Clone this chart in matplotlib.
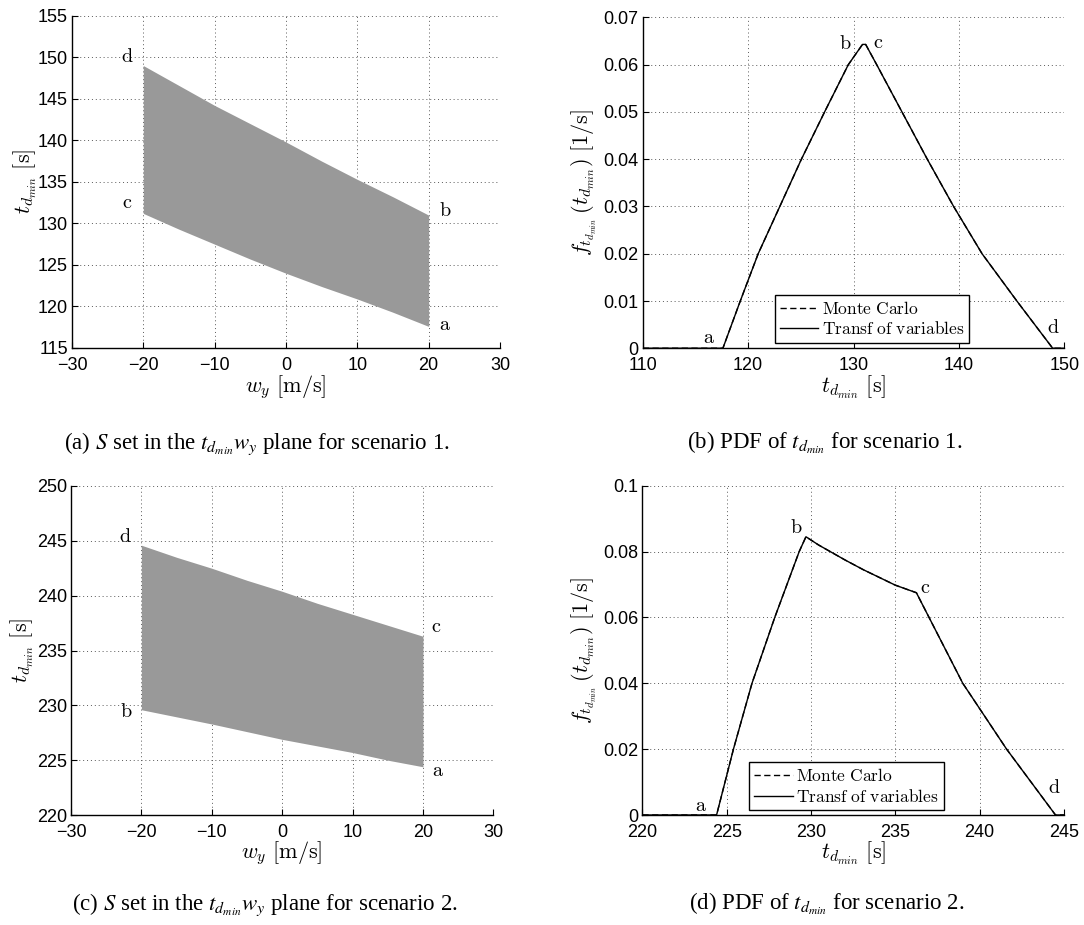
import numpy as np
import matplotlib
matplotlib.use("Agg")
import matplotlib.pyplot as plt
from matplotlib.ticker import FuncFormatter, MultipleLocator

plt.rcParams['font.family'] = ['Liberation Sans', 'DejaVu Sans']
plt.rcParams['mathtext.fontset'] = 'cm'

# ---- scenario 1: S set in the (w_y, t_dmin) plane
wy = [-20, -15, -10, -5, 0, 5, 10, 15, 20]
s1_top = [149.0, 146.6, 144.2, 142.0, 139.8, 137.5, 135.3, 133.2, 131.0]
s1_bottom = [131.2, 129.3, 127.5, 125.7, 124.0, 122.4, 120.9, 119.3, 117.6]
s1_corners = {'a': (22.3, 117.8), 'b': (22.3, 131.6), 'c': (-22.3, 132.5), 'd': (-22.3, 150.1)}

# ---- scenario 1: PDF of t_dmin
t1 = [110, 117.6, 119.25, 120.95, 123.0, 125.05, 127.25, 129.5, 130.85, 131.15,
      132.2, 134.6, 137.0, 139.5, 142.2, 145.5, 148.9, 150]
pdf1_mc = [0, 0, 0.01, 0.02, 0.03, 0.04, 0.05, 0.06, 0.0643, 0.0643,
           0.06, 0.05, 0.04, 0.03, 0.02, 0.01, 0, 0]
pdf1_tv = [0, 0, 0.01, 0.02, 0.03, 0.04, 0.05, 0.06, 0.0643, 0.0643,
           0.06, 0.05, 0.04, 0.03, 0.02, 0.01, 0, 0]
pdf1_marks = {'a': (116.3, 0.0022), 'b': (129.2, 0.0644), 'c': (132.3, 0.0646), 'd': (148.95, 0.0044)}

# ---- scenario 2: S set
s2_top = [244.6, 243.5, 242.5, 241.4, 240.4, 239.3, 238.3, 237.3, 236.3]
s2_bottom = [229.6, 228.95, 228.3, 227.6, 226.9, 226.3, 225.7, 225.0, 224.4]
s2_corners = {'a': (22.2, 224.1), 'b': (-22.1, 229.4), 'c': (21.9, 237.2), 'd': (-22.3, 245.4)}

# ---- scenario 2: PDF
t2 = [220, 224.4, 225.4, 226.5, 227.85, 229.3, 229.7, 230.45, 232.0, 233.1,
      235.0, 236.25, 237.0, 239.0, 241.6, 244.5, 245]
pdf2_mc = [0, 0, 0.02, 0.04, 0.06, 0.08, 0.0845, 0.0820, 0.0775, 0.0745,
           0.0698, 0.0675, 0.060, 0.040, 0.020, 0, 0]
pdf2_tv = [0, 0, 0.02, 0.04, 0.06, 0.08, 0.0845, 0.0820, 0.0775, 0.0745,
           0.0698, 0.0675, 0.060, 0.040, 0.020, 0, 0]
pdf2_marks = {'a': (223.5, 0.0030), 'b': (229.1, 0.0874), 'c': (236.8, 0.0692), 'd': (244.4, 0.0083)}

captions = [
    r'(a) $S$ set in the $t_{d_{min}}w_y$ plane for scenario 1.',
    r'(b) PDF of $t_{d_{min}}$ for scenario 1.',
    r'(c) $S$ set in the $t_{d_{min}}w_y$ plane for scenario 2.',
    r'(d) PDF of $t_{d_{min}}$ for scenario 2.',
]

TD_LABEL = r'$t_{d_{min}}\ [\mathrm{s}]$'
WY_LABEL = r'$w_y\ [\mathrm{m/s}]$'
PDF_LABEL = r'$f_{t_{d_{min}}}\,(t_{d_{min}})\ [1/\mathrm{s}]$'


def fmt(v, pos):
    return f'{v:g}'.replace('-', '\u2212')


def style(ax, xlim, ylim, xstep, ystep):
    ax.set_xlim(*xlim)
    ax.set_ylim(*ylim)
    ax.xaxis.set_major_locator(MultipleLocator(xstep))
    ax.yaxis.set_major_locator(MultipleLocator(ystep))
    ax.xaxis.set_major_formatter(FuncFormatter(fmt))
    ax.yaxis.set_major_formatter(FuncFormatter(fmt))
    ax.set_axisbelow(True)
    ax.grid(True, linestyle=(0, (1, 3)), color='0.35', linewidth=0.7)
    for s in ['top', 'right']:
        ax.spines[s].set_visible(False)
    for s in ['left', 'bottom']:
        ax.spines[s].set_linewidth(1.0)
    ax.tick_params(direction='in', length=4, width=0.8, labelsize=13)
    ax.tick_params(axis='x', pad=6.5)
    ax.tick_params(axis='y', pad=3)


def letters(ax, marks):
    for k, (x, y) in marks.items():
        ax.text(x, y, r'$\mathrm{%s}$' % k, fontsize=14.5, ha='center', va='center')


def labels(ax, xl, yl, ylx, xly):
    ax.set_xlabel(xl, fontsize=16, va='center')
    ax.set_ylabel(yl, fontsize=16, va='center')
    ax.xaxis.set_label_coords(0.5, xly)
    ax.yaxis.set_label_coords(ylx, 0.5)


def pdf_panel(ax, t, mc, tv, anchor):
    ax.plot(t, mc, color='k', lw=1.0, linestyle=(0, (4.5, 2.5)), label=r'$\mathrm{Monte\ Carlo}$')
    ax.plot(t, tv, color='k', lw=1.0, label=r'$\mathrm{Transf\ of\ variables}$')
    leg = ax.legend(loc='lower left', bbox_to_anchor=anchor, borderaxespad=0,
                    fancybox=False, edgecolor='k', framealpha=1, fontsize=12.5,
                    handlelength=2.2, handletextpad=0.2, labelspacing=0.2,
                    borderpad=0.3)
    leg.get_frame().set_linewidth(1.0)


fig = plt.figure(figsize=(10.84, 9.25), dpi=100)

axA = fig.add_axes([0.0664, 0.6238, 0.3948, 0.3592])
axA.fill_between(wy, s1_bottom, s1_top, color='#999999', linewidth=0)
style(axA, (-30, 30), (115, 155), 10, 5)
letters(axA, s1_corners)
labels(axA, WY_LABEL, TD_LABEL, -0.108, -0.117)

axB = fig.add_axes([0.5930, 0.6235, 0.3888, 0.3576])
pdf_panel(axB, t1, pdf1_mc, pdf1_tv, (0.3136, 0.017))
style(axB, (110, 150), (0, 0.07), 10, 0.01)
letters(axB, pdf1_marks)
labels(axB, TD_LABEL, PDF_LABEL, -0.138, -0.118)

axC = fig.add_axes([0.0655, 0.1189, 0.3896, 0.3557])
axC.fill_between(wy, s2_bottom, s2_top, color='#999999', linewidth=0)
style(axC, (-30, 30), (220, 250), 10, 5)
letters(axC, s2_corners)
labels(axC, WY_LABEL, TD_LABEL, -0.116, -0.116)

axD = fig.add_axes([0.5926, 0.1189, 0.3889, 0.3560])
pdf_panel(axD, t2, pdf2_mc, pdf2_tv, (0.2536, 0.015))
style(axD, (220, 245), (0, 0.1), 5, 0.02)
letters(axD, pdf2_marks)
labels(axD, TD_LABEL, PDF_LABEL, -0.138, -0.116)

cap_pos = [(257, 449), (825, 449), (265, 910), (827, 910)]
for txt, (px, py) in zip(captions, cap_pos):
    fig.text(px / 1084, 1 - py / 925, txt, ha='center', va='baseline',
             fontsize=16.5, family='Liberation Serif', math_fontfamily='stix')

fig.savefig('out.png', dpi=100)
